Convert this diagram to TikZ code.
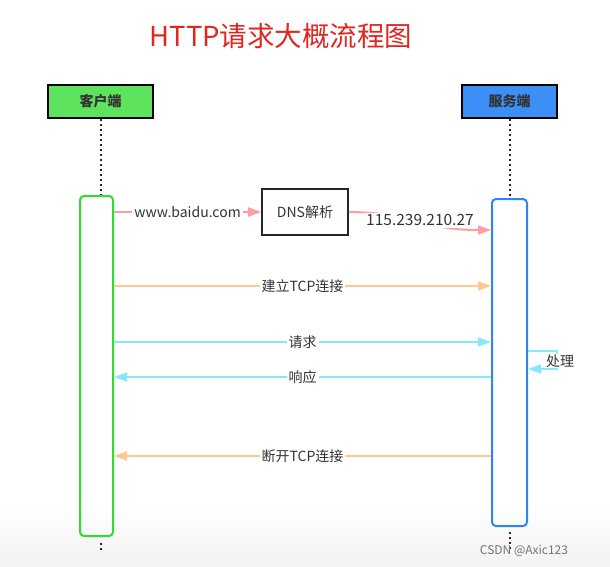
\documentclass[tikz,border=0pt]{standalone}
\usepackage{fontspec}
\setmainfont{Noto Sans CJK SC}
\usetikzlibrary{arrows.meta,positioning}
\definecolor{titlered}{HTML}{E0261E}
\definecolor{cfill}{HTML}{5EE35E}
\definecolor{sfill}{HTML}{3B8FF7}
\definecolor{cline}{HTML}{2EDD2E}
\definecolor{sline}{HTML}{2B85F5}
\definecolor{pinkln}{HTML}{FF9E9E}
\definecolor{orangeln}{HTML}{FFC890}
\definecolor{cyanln}{HTML}{85E8FF}
\definecolor{txt}{HTML}{333333}
\tikzset{
  actor/.style={draw=black, line width=2pt, minimum width=105pt, minimum height=33pt, inner sep=0pt,
    font=\fontsize{14}{16}\selectfont\bfseries, text=txt},
  actbar/.style={draw, line width=2pt, rounded corners=4pt, inner sep=0pt},
  lifeline/.style={line width=2pt, dash pattern=on 2pt off 3pt, black!85},
  msg/.style={line width=2pt, -{Triangle[length=13pt,width=9pt]}},
  lbl/.style={fill=white, inner sep=2pt, font=\fontsize{14}{16}\selectfont, text=txt},
}
\begin{document}
\begin{tikzpicture}[x=1pt,y=-1pt]
\useasboundingbox (0,0) rectangle (610,566);
\shade[top color=white, bottom color=black!5] (0,505) rectangle (610,566);
% title
\node[text=titlered, font=\fontsize{27.5}{30}\selectfont] (title) at (281,36) {HTTP请求大概流程图};
% actors
\node[actor, fill=cfill] (client) at (100.5,101.5) {客户端};
\node[actor, fill=sfill, minimum width=95pt] (server) at (509.5,101.5) {服务端};
% activation bars
\node[actbar, draw=cline, minimum width=33pt, minimum height=340pt] (cact) at (96.5,366) {};
\node[actbar, draw=sline, minimum width=35pt, minimum height=327pt] (sact) at (509.5,362.5) {};
% lifelines
\coordinate (cend) at (100.5,552);
\coordinate (send) at (509.5,550);
\draw[lifeline] (client.south) -- (client.south |- cact.north);
\draw[lifeline] (server.south) -- (server.south |- sact.north);
\draw[lifeline] (client.south |- cact.south) ++(0,6) -- (cend);
\draw[lifeline] (server.south |- sact.south) ++(0,5) -- (send);
% DNS
\node[draw=black!85, line width=1.6pt, minimum width=86pt, minimum height=46pt, inner sep=0pt,
  font=\fontsize{14}{16}\selectfont, text=txt] (dns) at (305,212) {DNS解析};
\draw[msg, pinkln] (cact.east |- dns.west) -- node[lbl, pos=0.5] {www.baidu.com} (dns.west);
\draw[msg, pinkln] (dns.east) .. controls (420,213) and (420,230) .. node[lbl, font=\fontsize{15.5}{17}\selectfont, yshift=1pt] (ip) {115.239.210.27} (sact.west |- {0,230});
% TCP connect
\draw[msg, orangeln] (cact.east |- {0,286}) -- node[lbl, pos=0.5] {建立TCP连接} (sact.west |- {0,286});
% request
\draw[msg, cyanln] (cact.east |- {0,342}) -- node[lbl, pos=0.5] {请求} (sact.west |- {0,342});
% process
\coordinate (p1) at (557,351);
\coordinate (p2) at (557,369);
\draw[msg, cyanln] (sact.east |- {0,351}) -- (p1) -- (p2) -- (sact.east |- p2);
\node[lbl, inner sep=1pt] (proc) at (560,361) {处理};
% response
\draw[msg, cyanln] (sact.west |- {0,377}) -- node[lbl, pos=0.5] {响应} (cact.east |- {0,377});
% disconnect
\draw[msg, orangeln] (sact.west |- {0,456}) -- node[lbl, pos=0.5] {断开TCP连接} (cact.east |- {0,456});
% watermark
\node[text=black!55, font=\fontsize{12}{14}\selectfont] (wm) at (524,551) {CSDN @Axic123};
\end{tikzpicture}
\end{document}
